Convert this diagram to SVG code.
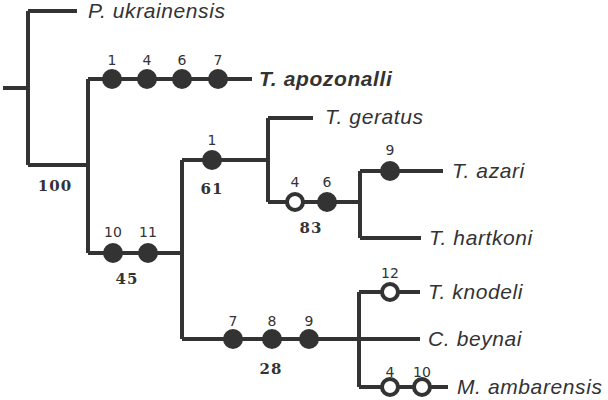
<svg xmlns="http://www.w3.org/2000/svg" width="608" height="400" viewBox="0 0 608 400">
<style>
.br{fill:none;stroke:#333;stroke-width:4;stroke-linecap:butt;stroke-linejoin:miter}
.f{fill:#333}
.o{fill:#fff;stroke:#333;stroke-width:4}
.sp{font-family:"Liberation Sans",Arial,sans-serif;font-style:italic;font-size:21px;letter-spacing:0.6px;fill:#333}
.ch{font-family:"DejaVu Sans",Verdana,sans-serif;font-size:14px;fill:#333;text-anchor:middle}
.bs{font-family:"DejaVu Serif",serif;font-weight:bold;font-size:15px;letter-spacing:1px;fill:#333;text-anchor:middle}
</style>
<rect width="608" height="400" fill="#fff"/>
<g id="connectors">
<path class="br" d="M3 88H28M28 11V165M28 11H77M28 165H88M88 79V253M88 79H252M88 253H182M182 160V339M182 160H268M268 118V202M268 118H313M268 202H360M360 171V238M360 171H443M360 238H421M182 339H420M359 292V387M359 292H420M359 387H448"/>
</g>
<g id="node-P-ukrainensis"><text class="sp" x="88" y="18">P. ukrainensis</text></g>
<g id="node-T-apozonalli">
<circle class="f" cx="112" cy="79" r="10"/><circle class="f" cx="147" cy="79" r="10"/><circle class="f" cx="182" cy="79" r="10"/><circle class="f" cx="218" cy="79" r="10"/>
<text class="ch" x="112" y="65">1</text><text class="ch" x="147" y="65">4</text><text class="ch" x="182" y="65">6</text><text class="ch" x="218" y="65">7</text>
<text class="sp" x="259" y="86" font-weight="bold">T. apozonalli</text>
</g>
<g id="node-100"><text class="bs" x="55" y="191">100</text></g>
<g id="node-45">
<circle class="f" cx="113" cy="253" r="10"/><circle class="f" cx="148" cy="253" r="10"/>
<text class="ch" x="113" y="237">10</text><text class="ch" x="148" y="237">11</text>
<text class="bs" x="127" y="284">45</text>
</g>
<g id="node-61">
<circle class="f" cx="212" cy="160" r="10"/>
<text class="ch" x="212" y="145">1</text>
<text class="bs" x="212" y="194">61</text>
</g>
<g id="node-T-geratus"><text class="sp" x="325" y="124">T. geratus</text></g>
<g id="node-83">
<circle class="o" cx="295" cy="202" r="8"/><circle class="f" cx="327" cy="202" r="10"/>
<text class="ch" x="295" y="187">4</text><text class="ch" x="327" y="187">6</text>
<text class="bs" x="311" y="233">83</text>
</g>
<g id="node-T-azari">
<circle class="f" cx="390" cy="171" r="10"/>
<text class="ch" x="390" y="155">9</text>
<text class="sp" x="452" y="178">T. azari</text>
</g>
<g id="node-T-hartkoni"><text class="sp" x="429" y="245">T. hartkoni</text></g>
<g id="node-28">
<circle class="f" cx="233" cy="339" r="10"/><circle class="f" cx="272" cy="339" r="10"/><circle class="f" cx="309" cy="339" r="10"/>
<text class="ch" x="233" y="326">7</text><text class="ch" x="272" y="326">8</text><text class="ch" x="309" y="326">9</text>
<text class="bs" x="271" y="374">28</text>
</g>
<g id="node-T-knodeli">
<circle class="o" cx="390" cy="292" r="8"/>
<text class="ch" x="390" y="278">12</text>
<text class="sp" x="428" y="299">T. knodeli</text>
</g>
<g id="node-C-beynai"><text class="sp" x="428" y="346">C. beynai</text></g>
<g id="node-M-ambarensis">
<circle class="o" cx="390" cy="387" r="8"/><circle class="o" cx="422" cy="387" r="8"/>
<text class="ch" x="390" y="377">4</text><text class="ch" x="422" y="377">10</text>
<text class="sp" x="457" y="394">M. ambarensis</text>
</g>
</svg>
